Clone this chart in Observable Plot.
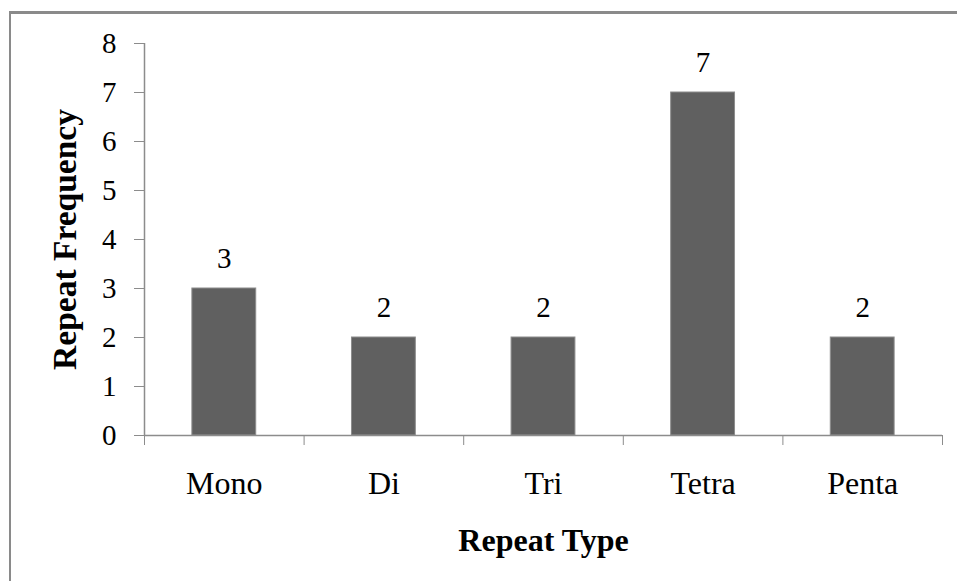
<!DOCTYPE html>
<html>
<head>
<meta charset="utf-8">
<script src="https://cdn.jsdelivr.net/npm/d3@7"></script>
<script src="https://cdn.jsdelivr.net/npm/@observablehq/plot@0.6"></script>
<style>
  html, body { margin: 0; padding: 0; background: #fff; }
  #wrap { position: relative; width: 957px; height: 581px; overflow: hidden; }
  #frame { position: absolute; left: 9px; top: 11px; width: 960px; height: 600px;
           border-left: 2px solid #8a8a8a; border-top: 3px solid #8a8a8a; box-sizing: border-box; pointer-events: none; }
</style>
</head>
<body>
<div id="wrap"><div id="frame"></div></div>
<script>
const categories = ["Mono", "Di", "Tri", "Tetra", "Penta"];
const frequencies = [3, 2, 2, 7, 2];
const yTicks = [0, 1, 2, 3, 4, 5, 6, 7, 8];

const data = categories.map((c, i) => ({category: c, index: i, value: frequencies[i]}));
const boundaries = d3.range(categories.length + 1);
const serif = "'Liberation Serif', 'Times New Roman', serif";

const chart = Plot.plot({
  width: 957,
  height: 581,
  marginLeft: 144,
  marginRight: 15,
  marginTop: 43,
  marginBottom: 146,
  style: {fontFamily: serif, background: "transparent"},
  x: {type: "linear", domain: [0, categories.length], axis: null},
  y: {domain: [0, 8], axis: null},
  marks: [
    Plot.rectY(data, {x1: d => d.index + 0.3, x2: d => d.index + 0.7, y: "value", fill: "#606060", stroke: "#8c8c8c", strokeWidth: 1}),
    Plot.ruleY([0], {stroke: "#8c8c8c", strokeWidth: 1.5}),
    Plot.ruleX([0], {y1: 0, y2: 8, stroke: "#8c8c8c", strokeWidth: 1.5}),
    Plot.axisY({ticks: yTicks, tickSize: 10, tickPadding: 18, stroke: "#8c8c8c", fontSize: 29, fontFamily: serif, fill: "#000", label: null, tickFormat: d => d}),
    Plot.axisX({ticks: boundaries, tickSize: 10, stroke: "#8c8c8c", tickFormat: () => "", label: null}),
    Plot.text(data, {x: d => d.index + 0.5, y: 0, text: "category", dy: 48, fontSize: 32, fontFamily: serif, fill: "#000"}),
    Plot.text(data, {x: d => d.index + 0.5, y: "value", text: d => String(d.value), dy: -30, fontSize: 29, fontFamily: serif, fill: "#000"}),
    Plot.text(["Repeat Type"], {frameAnchor: "bottom", dy: 115, text: d => d, fontSize: 32, fontFamily: serif, fontWeight: "bold", fill: "#000"}),
    Plot.text(["Repeat Frequency"], {frameAnchor: "left", textAnchor: "middle", dx: -79, rotate: -90, text: d => d, fontSize: 33.5, fontFamily: serif, fontWeight: "bold", fill: "#000"})
  ]
});
document.getElementById("wrap").insertBefore(chart, document.getElementById("frame"));
</script>
</body>
</html>
